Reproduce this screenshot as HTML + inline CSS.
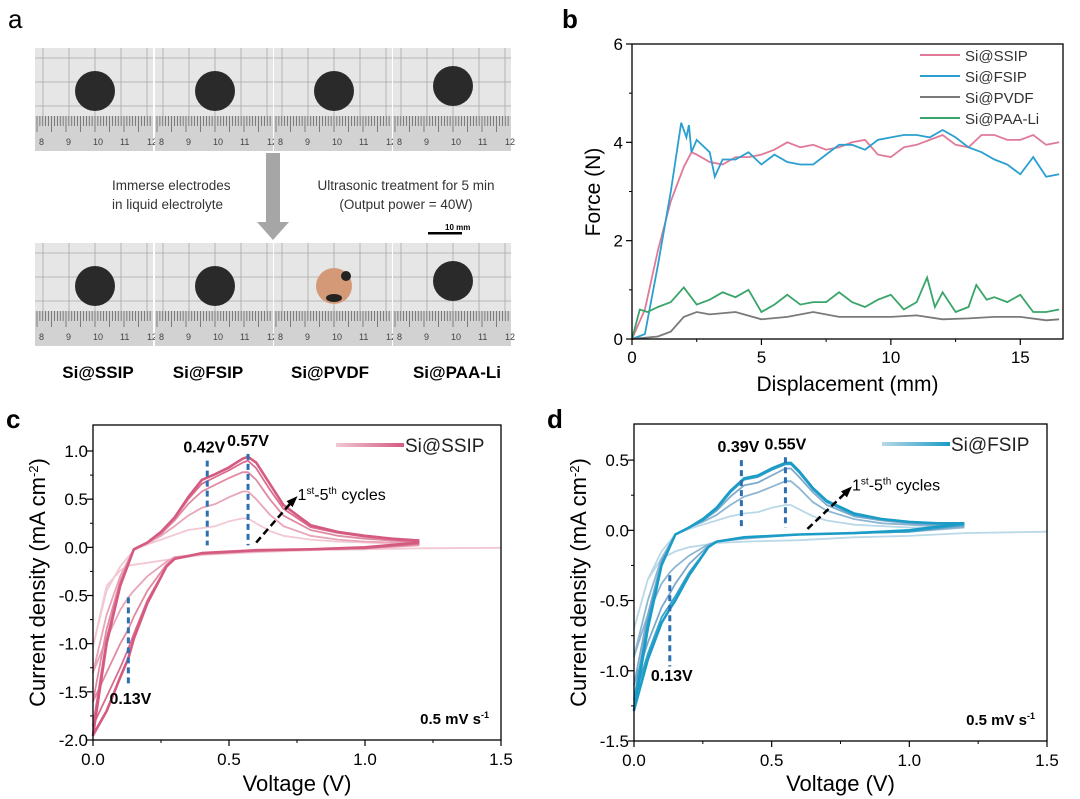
<!DOCTYPE html>
<html><head><meta charset="utf-8"><style>
html,body{margin:0;padding:0;background:#fff}
svg{display:block;font-family:"Liberation Sans",Arial,sans-serif}
</style></head><body>
<svg id="fig" width="1080" height="799" viewBox="0 0 1080 799" xmlns="http://www.w3.org/2000/svg">
<text x="8" y="28" font-size="26">a</text>
<text x="562" y="28" font-size="26" font-weight="bold">b</text>
<text x="6" y="428" font-size="26" font-weight="bold">c</text>
<text x="547" y="428" font-size="26" font-weight="bold">d</text>
<g id="photos"></g>
<g>
<polygon points="266,153 280,153 280,222 289,222 273,240 257,222 266,222" fill="#a6a6a6"/>
<text x="112" y="190" font-size="13.5" fill="#333">Immerse electrodes</text>
<text x="112" y="209" font-size="13.5" fill="#333">in liquid electrolyte</text>
<text x="406" y="190" font-size="13.5" fill="#333" text-anchor="middle">Ultrasonic treatment for 5 min</text>
<text x="406" y="209" font-size="13.5" fill="#333" text-anchor="middle">(Output power = 40W)</text>
<text x="445" y="230" font-size="8" font-weight="bold">10 mm</text>
<rect x="428" y="232" width="34" height="2.5" fill="#000"/>
</g>
<g font-size="17" font-weight="bold" text-anchor="middle">
<text x="98" y="378">Si@SSIP</text>
<text x="208" y="378">Si@FSIP</text>
<text x="330" y="378">Si@PVDF</text>
<text x="457" y="378">Si@PAA-Li</text>
</g>
<g id="pb"></g>
<g id="pc"></g>
<g id="pd"></g>
</svg>
<script>
const NS="http://www.w3.org/2000/svg";
function mk(p,t,a){const e=document.createElementNS(NS,t);for(const k in a)e.setAttribute(k,a[k]);p.appendChild(e);return e;}

// ---- Panel a photos ----
const photoCols=[35,155,274,393];
const photoRows=[48,243];
const ph=document.getElementById('photos');
photoRows.forEach((py,ri)=>{photoCols.forEach((px,ci)=>{
  const g=mk(ph,'g',{});
  
  
  mk(g,'rect',{x:px,y:py,width:118,height:103,fill:'#e6e6e6'});
  for(let i=0;i<5;i++){mk(g,'line',{x1:px+8+i*26,y1:py,x2:px+8+i*26,y2:py+68,stroke:'#a8a8a8','stroke-width':0.8});}
  for(let j=0;j<3;j++){mk(g,'line',{x1:px,y1:py+10+j*24,x2:px+118,y2:py+10+j*24,stroke:'#a8a8a8','stroke-width':0.8});}
  mk(g,'rect',{x:px,y:py+68,width:118,height:35,fill:'#d2d2d2'});
  for(let k=0;k<40;k++){mk(g,'line',{x1:px+2+k*2.9,y1:py+68,x2:px+2+k*2.9,y2:py+(k%5==0?84:78),stroke:'#444','stroke-width':0.6});}
  const nums=['8','9','10','11','12'];
  nums.forEach((n,q)=>{const t=mk(g,'text',{x:px+4+q*27,y:py+97,'font-size':9,fill:'#444'});t.textContent=n;});
  const cx=px+60,cy=py+(ci==3?38:43);
  if(ri==1&&ci==2){mk(g,'circle',{cx:cx,cy:cy,r:18,fill:'#d49a78'});
    mk(g,'circle',{cx:cx+12,cy:cy-10,r:5,fill:'#222'});mk(g,'ellipse',{cx:cx,cy:cy+12,rx:8,ry:4,fill:'#222'});}
  else mk(g,'circle',{cx:cx,cy:cy,r:20,fill:'#2a2a2a'});
});});

// ---- Panel b data ----
const bSSIPx=[0,0.5,1,1.5,2,2.3,2.5,3,3.5,4,4.5,5,5.5,6,6.5,7,7.5,8,8.5,9,9.5,10,10.5,11,11.5,12,12.5,13,13.5,14,14.5,15,15.5,16,16.5];
const bSSIPy=[0,0.6,1.8,2.8,3.5,3.8,3.75,3.6,3.55,3.7,3.7,3.75,3.85,4.0,3.9,3.95,3.85,3.9,4.0,4.05,3.75,3.7,3.9,3.95,4.05,4.15,3.95,3.9,4.15,4.15,4.05,4.05,4.15,3.95,4.0];
const bFSIPx=[0,0.5,1,1.5,1.9,2.1,2.2,2.3,2.5,3,3.2,3.5,4,4.5,5,5.5,6,6.5,7,7.5,8,8.5,9,9.5,10,10.5,11,11.5,12,12.5,13,13.5,14,14.5,15,15.5,16,16.5];
const bFSIPy=[0,0.1,1.5,3.0,4.4,4.1,4.35,3.8,4.05,3.8,3.3,3.65,3.65,3.8,3.55,3.75,3.6,3.55,3.55,3.75,3.95,3.95,3.85,4.05,4.1,4.15,4.15,4.1,4.25,4.1,3.9,3.8,3.65,3.55,3.35,3.7,3.3,3.35];
const bPVDFx=[0,1,1.5,2,2.5,3,4,5,6,7,8,9,10,11,12,13,14,15,16,16.5];
const bPVDFy=[0,0.05,0.15,0.45,0.55,0.5,0.55,0.4,0.45,0.55,0.45,0.45,0.45,0.48,0.4,0.42,0.45,0.45,0.38,0.4];
const bPAAx=[0,0.3,0.6,1,1.5,2,2.5,3,3.5,4,4.5,5,5.5,6,6.5,7,7.5,8,8.5,9,9.5,10,10.5,11,11.4,11.7,12,12.5,13,13.3,13.7,14,14.5,15,15.5,16,16.5];
const bPAAy=[0,0.6,0.55,0.65,0.75,1.05,0.7,0.8,0.95,0.85,1.0,0.55,0.7,0.9,0.7,0.75,0.75,0.95,0.75,0.65,0.8,0.9,0.6,0.75,1.25,0.65,0.95,0.55,0.65,1.1,0.8,0.85,0.75,0.9,0.55,0.55,0.6];
const bXTicks=[0,5,10,15];
const bYTicks=[0,2,4,6];
const bLegend=['Si@SSIP','Si@FSIP','Si@PVDF','Si@PAA-Li'];

(function(){
 const g=document.getElementById('pb');
 const L=632,R=1063,T=44,B=339;
 const X=v=>L+(v/16.65)*(R-L), Y=v=>B-(v/6)*(B-T);
 const series=[[bSSIPx,bSSIPy,'#e07a98'],[bFSIPx,bFSIPy,'#2a9fd0'],[bPVDFx,bPVDFy,'#7a7a7a'],[bPAAx,bPAAy,'#3aa56a']];
 const names=['ssip','fsip','pvdf','paa'];
 series.forEach((s,i)=>{
  const d=s[0].map((x,k)=>(k?'L':'M')+X(x).toFixed(1)+','+Y(s[1][k]).toFixed(1)).join('');
  const p=mk(g,'path',{d:d,fill:'none',stroke:s[2],'stroke-width':1.8});
  
  
 });
 mk(g,'rect',{x:L,y:T,width:R-L,height:B-T,fill:'none',stroke:'#000','stroke-width':1.3});
 bXTicks.forEach(v=>{mk(g,'line',{x1:X(v),y1:B,x2:X(v),y2:B+6,stroke:'#000','stroke-width':1.2});
  const t=mk(g,'text',{x:X(v),y:B+24,'font-size':17,'text-anchor':'middle'});t.textContent=v;
  });
 [2.5,7.5,12.5].forEach(v=>mk(g,'line',{x1:X(v),y1:B,x2:X(v),y2:B+3,stroke:'#000'}));
 bYTicks.forEach(v=>{mk(g,'line',{x1:L-6,y1:Y(v),x2:L,y2:Y(v),stroke:'#000','stroke-width':1.2});
  const t=mk(g,'text',{x:L-9,y:Y(v)+6,'font-size':17,'text-anchor':'end'});t.textContent=v;
  });
 [1,3,5].forEach(v=>mk(g,'line',{x1:L-3,y1:Y(v),x2:L,y2:Y(v),stroke:'#000'}));
 const xt=mk(g,'text',{x:(L+R)/2,y:391,'font-size':21,'text-anchor':'middle'});xt.textContent='Displacement (mm)';
 
 const yt=mk(g,'text',{x:0,y:0,'font-size':21,'text-anchor':'middle',transform:'translate(600,192) rotate(-90)'});yt.textContent='Force (N)';
 
 bLegend.forEach((n,i)=>{const y=55+i*21;
  const ln=mk(g,'line',{x1:920,y1:y,x2:960,y2:y,stroke:series[i][2],'stroke-width':2});
  
  const t=mk(g,'text',{x:965,y:y+6,'font-size':15,fill:'#333'});t.textContent=n;
  });
})();

// ---- Panel c/d CV data ----
const cvAnodV=[0,0.05,0.1,0.15,0.2,0.25,0.3,0.35,0.4,0.45,0.5,0.55,0.57,0.6,0.65,0.7,0.8,0.9,1.0,1.1,1.2];
const cvCathV=[1.5,1.2,1.0,0.8,0.6,0.4,0.3,0.27,0.2,0.15,0.13,0.1,0.05,0.0];
// panel c (Si@SSIP)
const cAnod1=[-1.03,-0.45,-0.2,-0.03,0.03,0.08,0.13,0.18,0.2,0.22,0.27,0.3,0.3,0.25,0.17,0.12,0.08,0.06,0.05,0.04,0.03];
const cAnod2=[-1.3,-0.7,-0.3,-0.02,0.04,0.12,0.22,0.33,0.41,0.45,0.52,0.58,0.58,0.5,0.34,0.22,0.12,0.08,0.06,0.05,0.04];
const cAnod3=[-1.6,-0.85,-0.35,-0.02,0.05,0.14,0.28,0.45,0.58,0.65,0.72,0.78,0.78,0.7,0.5,0.33,0.18,0.12,0.09,0.07,0.05];
const cAnod4=[-1.85,-0.95,-0.38,-0.02,0.05,0.15,0.3,0.5,0.66,0.73,0.8,0.88,0.9,0.82,0.6,0.4,0.21,0.15,0.11,0.08,0.06];
const cAnod5=[-1.95,-1.0,-0.4,-0.02,0.05,0.16,0.31,0.52,0.7,0.76,0.83,0.92,0.94,0.88,0.66,0.44,0.23,0.16,0.12,0.09,0.07];
const cCath1=[-0.005,-0.01,-0.02,-0.03,-0.05,-0.08,-0.12,-0.13,-0.16,-0.18,-0.19,-0.24,-0.4,-1.03];
const cCath2=[null,0.02,-0.01,-0.02,-0.04,-0.07,-0.1,-0.15,-0.3,-0.45,-0.52,-0.65,-0.95,-1.3];
const cCath3=[null,0.03,-0.01,-0.02,-0.04,-0.07,-0.11,-0.18,-0.45,-0.72,-0.85,-1.0,-1.3,-1.6];
const cCath4=[null,0.04,-0.01,-0.02,-0.03,-0.06,-0.12,-0.2,-0.55,-0.9,-1.05,-1.25,-1.55,-1.85];
const cCath5=[null,0.05,0.0,-0.02,-0.03,-0.06,-0.12,-0.2,-0.58,-0.95,-1.15,-1.35,-1.7,-1.95];
// panel d (Si@FSIP)
const dAnod1=[-0.7,-0.35,-0.15,-0.03,0.01,0.04,0.07,0.1,0.12,0.13,0.16,0.18,0.18,0.15,0.1,0.07,0.04,0.03,0.02,0.02,0.02];
const dAnod2=[-0.9,-0.5,-0.2,-0.03,0.02,0.06,0.11,0.18,0.24,0.27,0.31,0.35,0.35,0.3,0.2,0.14,0.08,0.05,0.04,0.03,0.03];
const dAnod3=[-1.1,-0.6,-0.22,-0.03,0.02,0.07,0.14,0.24,0.32,0.34,0.39,0.44,0.44,0.38,0.27,0.18,0.1,0.07,0.05,0.04,0.04];
const dAnod4=[-1.2,-0.65,-0.24,-0.03,0.02,0.07,0.15,0.27,0.36,0.38,0.43,0.47,0.47,0.41,0.29,0.2,0.11,0.08,0.06,0.05,0.05];
const dAnod5=[-1.28,-0.7,-0.25,-0.03,0.02,0.08,0.16,0.28,0.37,0.39,0.44,0.48,0.48,0.42,0.3,0.21,0.12,0.08,0.06,0.05,0.05];
const dCath1=[-0.01,-0.02,-0.04,-0.05,-0.07,-0.08,-0.09,-0.1,-0.12,-0.15,-0.17,-0.2,-0.35,-0.7];
const dCath2=[null,0.02,-0.01,-0.02,-0.03,-0.06,-0.08,-0.1,-0.18,-0.26,-0.3,-0.38,-0.6,-0.9];
const dCath3=[null,0.03,-0.01,-0.02,-0.03,-0.05,-0.08,-0.11,-0.24,-0.38,-0.45,-0.55,-0.8,-1.1];
const dCath4=[null,0.04,-0.01,-0.02,-0.03,-0.05,-0.08,-0.12,-0.3,-0.47,-0.53,-0.62,-0.88,-1.2];
const dCath5=[null,0.05,0.0,-0.02,-0.03,-0.05,-0.08,-0.12,-0.32,-0.5,-0.56,-0.66,-0.92,-1.28];
const cYTicks=[-2.0,-1.5,-1.0,-0.5,0.0,0.5,1.0];
const dYTicks=[-1.5,-1.0,-0.5,0.0,0.5];
const cvXTicks=[0.0,0.5,1.0,1.5];
const cPeaks=[0.42,0.57];const cCathPeak=[0.13];
const dPeaks=[0.39,0.55];const dCathPeak=[0.13];

function cvPanel(id,box,ymin,ymax,yticks,yminor,anods,caths,colors,legend,peaks,cpk,peakTop,cpkRange,labelPos,arrow){
 const g=document.getElementById(id);
 const [L,R,T,B]=box;
 const X=v=>L+(v/1.5)*(R-L), Y=v=>B-(v-ymin)/(ymax-ymin)*(B-T);
 for(let c=0;c<5;c++){
  let pts=[];
  caths[c].forEach((y,k)=>{if(y!==null)pts.push([X(cvCathV[k]),Y(y)]);});
  anods[c].forEach((y,k)=>{if(k>0)pts.push([X(cvAnodV[k]),Y(y)]);});
  const d=pts.map((p,k)=>(k?'L':'M')+p[0].toFixed(1)+','+p[1].toFixed(1)).join('');
  const p=mk(g,'path',{d:d,fill:'none',stroke:colors[c],'stroke-width':c==4?2.6:1.8,'stroke-linejoin':'round'});
  
  
 }
 mk(g,'rect',{x:L,y:T,width:R-L,height:B-T,fill:'none',stroke:'#000','stroke-width':1.3});
 cvXTicks.forEach(v=>{mk(g,'line',{x1:X(v),y1:B,x2:X(v),y2:B+6,stroke:'#000','stroke-width':1.2});
  const t=mk(g,'text',{x:X(v),y:B+25,'font-size':17,'text-anchor':'middle'});t.textContent=v.toFixed(1);
  });
 [0.25,0.75,1.25].forEach(v=>mk(g,'line',{x1:X(v),y1:B,x2:X(v),y2:B+3,stroke:'#000'}));
 yticks.forEach(v=>{mk(g,'line',{x1:L-6,y1:Y(v),x2:L,y2:Y(v),stroke:'#000','stroke-width':1.2});
  const t=mk(g,'text',{x:L-5,y:Y(v)+6,'font-size':17,'text-anchor':'end'});t.textContent=v.toFixed(1);
  });
 yminor.forEach(v=>mk(g,'line',{x1:L-3,y1:Y(v),x2:L,y2:Y(v),stroke:'#000'}));
 const xt=mk(g,'text',{x:(L+R)/2,y:791,'font-size':22,'text-anchor':'middle'});xt.textContent='Voltage (V)';
 
 const yt=mk(g,'text',{x:0,y:0,'font-size':22,'text-anchor':'middle',transform:'translate('+(L-48)+','+((T+B)/2)+') rotate(-90)'});
 yt.innerHTML='Current density (mA cm<tspan dy="-7" font-size="13">-2</tspan><tspan dy="7">)</tspan>';
 
 peaks.forEach((v,i)=>{const l=mk(g,'line',{x1:X(v),y1:Y(peakTop[i]),x2:X(v),y2:Y(0.02),stroke:'#2e6fb0','stroke-width':3,'stroke-dasharray':'6,4'});
  
  const t=mk(g,'text',{x:X(v)+(i==0?-3:0),y:Y(peakTop[i])-8,'font-size':16,'font-weight':'bold','text-anchor':'middle'});t.textContent=v.toFixed(2)+'V';
  });
 cpk.forEach(v=>{const l=mk(g,'line',{x1:X(v),y1:Y(cpkRange[0]),x2:X(v),y2:Y(cpkRange[1]),stroke:'#2e6fb0','stroke-width':3,'stroke-dasharray':'6,4'});
  
  const t=mk(g,'text',{x:X(v)+2,y:labelPos,'font-size':16,'font-weight':'bold','text-anchor':'middle'});t.textContent=v.toFixed(2)+'V';
  });
 const ax1=X(arrow[0]),ay1=Y(arrow[1]),ax2=X(arrow[2]),ay2=Y(arrow[3]);
 const ar=mk(g,'line',{x1:ax1,y1:ay1,x2:ax2,y2:ay2,stroke:'#000','stroke-width':2.5,'stroke-dasharray':'7,4'});
 
 mk(g,'polygon',{points:(ax2+6)+','+(ay2-6)+' '+(ax2-5)+','+(ay2-1)+' '+(ax2+1)+','+(ay2+5),fill:'#000'});
 const ct=mk(g,'text',{x:ax2+6,y:ay2-2,'font-size':16});
 ct.innerHTML='1<tspan dy="-6" font-size="10">st</tspan><tspan dy="6">-5</tspan><tspan dy="-6" font-size="10">th</tspan><tspan dy="6"> cycles</tspan>';
 
 const gr=mk(g,'defs',{});const lg=mk(gr,'linearGradient',{id:id+'grad'});
 mk(lg,'stop',{offset:'0','stop-color':colors[0]});mk(lg,'stop',{offset:'1','stop-color':colors[4]});
 const sw=mk(g,'rect',{x:R-165,y:T+18,width:68,height:4,fill:'url(#'+id+'grad)'});
 
 const lt=mk(g,'text',{x:R-96,y:T+27,'font-size':19,fill:'#222'});lt.textContent=legend;
 
 const sr=mk(g,'text',{x:R-12,y:B-16,'font-size':15,'font-weight':'bold','text-anchor':'end'});
 sr.innerHTML='0.5 mV s<tspan dy="-6" font-size="9">-1</tspan>';
 
}
cvPanel('pc',[93,501,425,740],-2.0,1.27,cYTicks,[-1.75,-1.25,-0.75,-0.25,0.25,0.75],
 [cAnod1,cAnod2,cAnod3,cAnod4,cAnod5],[cCath1,cCath2,cCath3,cCath4,cCath5],
 ['#f2c8d3','#e9a4b8','#e08aa3','#d96d8e','#d45a80'],'Si@SSIP',cPeaks,cCathPeak,[0.9,0.97],[-0.52,-1.45],704,[0.6,0.05,0.73,0.47]);
cvPanel('pd',[634,1047,424,741],-1.5,0.757,dYTicks,[-1.25,-0.75,-0.25,0.25],
 [dAnod1,dAnod2,dAnod3,dAnod4,dAnod5],[dCath1,dCath2,dCath3,dCath4,dCath5],
 ['#b9d8e8','#8eb6d2','#7ea9cc','#3aa3cc','#1a9cc6'],'Si@FSIP',dPeaks,dCathPeak,[0.5,0.52],[-0.32,-0.97],681,[0.63,0.01,0.77,0.27]);
</script>
</body></html>
